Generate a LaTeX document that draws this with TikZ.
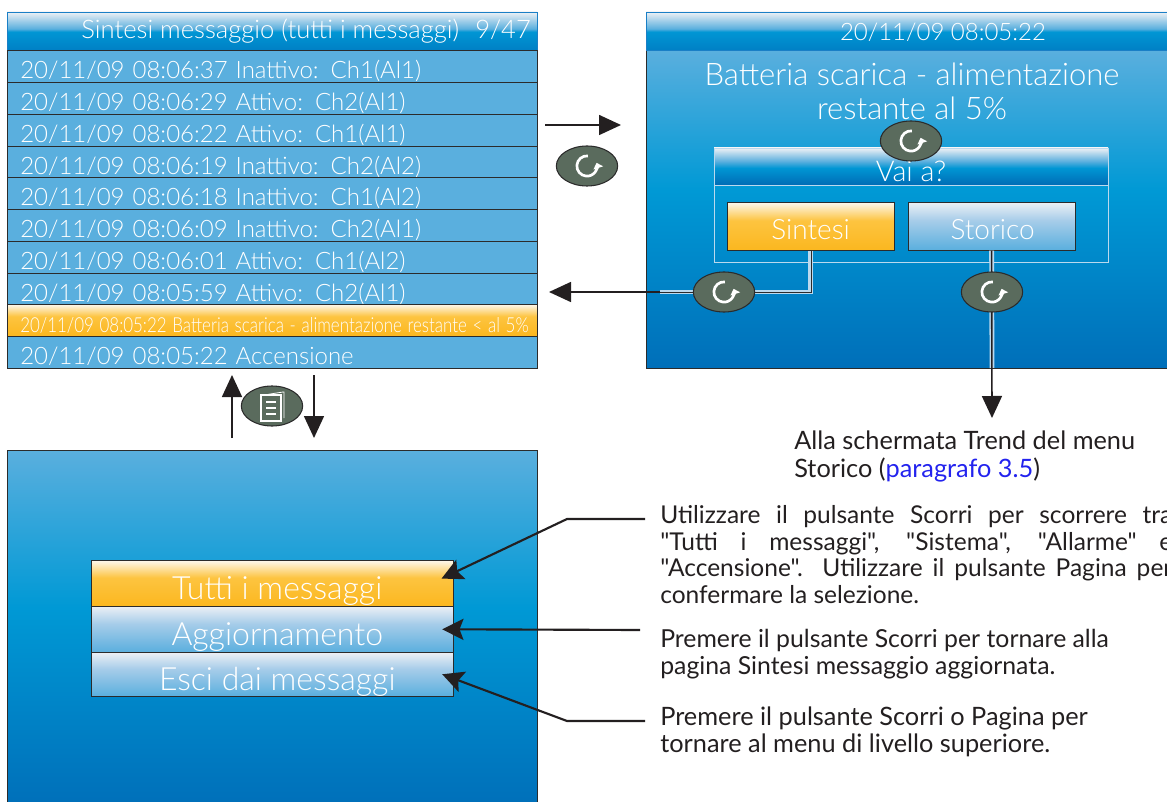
\documentclass[tikz,border=0pt]{standalone}
\usepackage{fontspec}
\setmainfont{Lato}[UprightFont=* Light]
\newfontfamily\notefont{Lato}
\usetikzlibrary{arrows.meta,shapes.geometric}

\definecolor{rowblue}{HTML}{5AAFDE}
\definecolor{keygreen}{HTML}{5A6B5D}
\definecolor{edgedark}{HTML}{2B2B2B}
\definecolor{frameblue}{HTML}{1A7FC6}
\definecolor{hdtop}{HTML}{EEF1F5}
\definecolor{hdmid}{HTML}{0096D4}
\definecolor{hdlow}{HTML}{0080C5}
\definecolor{hddeep}{HTML}{006CB5}
\definecolor{panelmid}{HTML}{0099D5}
\definecolor{panellow}{HTML}{006FB9}
\definecolor{orangetop}{HTML}{FDF8EE}
\definecolor{orangemid}{HTML}{FDC440}
\definecolor{orangelow}{HTML}{FBB71F}
\definecolor{btntop}{HTML}{ECF0F5}
\definecolor{btnmid}{HTML}{A6CCE9}
\definecolor{wirepale}{HTML}{BBD9EE}
\definecolor{linkblue}{HTML}{2323EE}
\definecolor{inktext}{HTML}{231F20}

\pgfdeclareverticalshading{panelshade}{100bp}{color(0bp)=(panellow); color(25bp)=(panellow); color(53bp)=(panelmid); color(75bp)=(rowblue); color(100bp)=(rowblue)}
\pgfdeclareverticalshading{headshade}{100bp}{color(0bp)=(hdlow); color(25bp)=(hdlow); color(49bp)=(hdmid); color(53bp)=(rowblue); color(75bp)=(hdtop); color(100bp)=(hdtop)}
\pgfdeclareverticalshading{vaishade}{100bp}{color(0bp)=(hddeep); color(25bp)=(hddeep); color(48bp)=(hdmid); color(57bp)=(rowblue); color(75bp)=(hdtop); color(100bp)=(hdtop)}
\pgfdeclareverticalshading{orangeshade}{100bp}{color(0bp)=(orangelow); color(25bp)=(orangelow); color(56bp)=(orangemid); color(75bp)=(orangetop); color(100bp)=(orangetop)}
\pgfdeclareverticalshading{btnshade}{100bp}{color(0bp)=(rowblue); color(25bp)=(rowblue); color(56bp)=(btnmid); color(75bp)=(btntop); color(100bp)=(btntop)}

\tikzset{
  rowbox/.style={draw=edgedark, fill=rowblue, text=white, inner ysep=0pt, inner xsep=9.75pt,
    text width=378pt, align=left, text height=21.5pt, text depth=2.5pt, font=\fontsize{18}{22}\selectfont},
  screenbtn/.style={draw=edgedark, text=white, inner sep=0pt, font=\fontsize{21}{25}\selectfont, align=center},
  menubtn/.style={screenbtn, minimum width=271.5pt, font=\fontsize{24}{28}\selectfont},
  keyoval/.style={ellipse, draw=edgedark, fill=keygreen, line width=0.8pt, inner sep=0pt},
  keyarc/.style={draw=white, line width=2pt, -{Triangle[length=4pt,width=7.5pt]}},
  whitetext/.style={text=white, inner sep=0pt},
  bigtext/.style={text=white, inner sep=0pt, align=center, font=\fontsize{23.3}{25.5}\selectfont},
  notetext/.style={text=inktext, inner sep=0pt, anchor=north west, align=left, font=\notefont\fontsize{18.4}{20}\selectfont},
  wirepalestyle/.style={draw=wirepale, line width=3.6pt},
  arrowline/.style={draw=inktext, line width=1.2pt, -{Triangle[length=16.5pt,width=15pt]}},
  calloutline/.style={draw=inktext, line width=1.6pt, -{Stealth[length=16pt,width=16pt,inset=3pt]}}
}

\newcommand{\scrollkey}[3]{
  \node[keyoval, minimum width=#3, minimum height=30pt] (#1) at (#2) {};
  \draw[keyarc] ([shift={(85:7.6pt)}]#1.center) arc[start angle=85, end angle=378, radius=7.6pt];
}

\begin{document}
\begin{tikzpicture}[x=0.75pt, y=-0.75pt]
  \useasboundingbox (0, 0) rectangle (1167, 802);

  \draw[draw=frameblue, shading=headshade] (7, 12) rectangle (537, 50);
  \node[whitetext, anchor=base east, font=\fontsize{19.2}{23}\selectfont] (listtitle) at (531, 39) {Sintesi messaggio (tutti i messaggi)\hspace{12pt}9/47};

  \node[rowbox, anchor=north west] (row1) at (7, 50) {20/11/09 08:06:37 Inattivo: Ch1(Al1)};
  \node[rowbox, anchor=north west] (row2) at (7, 82) {20/11/09 08:06:29 Attivo: Ch2(Al1)};
  \node[rowbox, anchor=north west] (row3) at (7, 114) {20/11/09 08:06:22 Attivo: Ch1(Al1)};
  \node[rowbox, anchor=north west] (row4) at (7, 146) {20/11/09 08:06:19 Inattivo: Ch2(Al2)};
  \node[rowbox, anchor=north west] (row5) at (7, 177) {20/11/09 08:06:18 Inattivo: Ch1(Al2)};
  \node[rowbox, anchor=north west] (row6) at (7, 209) {20/11/09 08:06:09 Inattivo: Ch2(Al1)};
  \node[rowbox, anchor=north west] (row7) at (7, 241) {20/11/09 08:06:01 Attivo: Ch1(Al2)};
  \node[rowbox, anchor=north west] (row8) at (7, 273) {20/11/09 08:05:59 Attivo: Ch2(Al1)};
  \node[rowbox, anchor=north west, shading=orangeshade] (row9) at (7, 304) {\scalebox{0.706}[0.86]{20/11/09 08:05:22 Batteria scarica - alimentazione restante < al 5\%}};
  \node[rowbox, anchor=north west] (row10) at (7, 336) {20/11/09 08:05:22 Accensione};

  \draw[draw=edgedark, shading=panelshade] (646, 50) rectangle (1172, 368);
  \draw[draw=frameblue, shading=headshade] (646, 12) rectangle (1172, 50);
  \node[whitetext, anchor=base, font=\fontsize{18}{22}\selectfont] (alarmtime) at (943, 41) {20/11/09 08:05:22};
  \node[bigtext, anchor=north] (alarmtext) at (912, 63) {Batteria scarica - alimentazione\\restante al 5\%};

  \draw[draw=wirepale] (714, 148) rectangle (1108, 262);
  \draw[draw=wirepale, shading=vaishade] (714, 148) rectangle (1108, 185);
  \node[whitetext, anchor=base, font=\fontsize{21.5}{25}\selectfont] (vai) at (911, 182) {Vai a?};
  \node[screenbtn, anchor=north west, shading=orangeshade, minimum width=125pt, text height=28pt, text depth=8pt] (sintesi) at (727, 202) {Sintesi};
  \node[screenbtn, anchor=north west, shading=btnshade, minimum width=125pt, text height=28pt, text depth=8pt] (storico) at (908, 202) {\hspace*{1.5pt}Storico};

  \draw[draw=edgedark, shading=panelshade] (7, 450) rectangle (537, 808);
  \node[menubtn, anchor=north west, shading=orangeshade, text height=29.5pt, text depth=5pt] (tutti) at (91, 560) {\hspace*{7.5pt}Tutti i messaggi};
  \node[menubtn, anchor=north west, shading=btnshade, text height=29.5pt, text depth=5pt] (aggiorna) at (91, 606) {\hspace*{7.5pt}Aggiornamento};
  \node[menubtn, anchor=north west, shading=btnshade, text height=28.7pt, text depth=4.3pt] (esci) at (91, 652) {\hspace*{7.5pt}Esci dai messaggi};

  \coordinate (nextfrom) at (545, 125);
  \coordinate (nextto) at (621, 125);
  \coordinate (leftfrom) at (660, 292);
  \coordinate (leftto) at (549, 292);
  \coordinate (trendto) at (992, 418);
  \coordinate (upfrom) at (232, 438);
  \coordinate (upto) at (232, 375);
  \coordinate (downfrom) at (314, 375);
  \coordinate (downto) at (314, 438);
  \coordinate (tuttielbow) at (567, 519);
  \coordinate (tuttifrom) at (645, 519);
  \coordinate (aggfrom) at (640, 630);
  \coordinate (escielbow) at (567, 721);
  \coordinate (escifrom) at (645, 721);
  \coordinate (storicopale) at (992, 368);

  \draw[wirepalestyle] (sintesi.south) |- (leftfrom);
  \draw[draw=edgedark, line width=0.7pt] ([shift={(1pt,0pt)}]sintesi.south) |- ([yshift=-0.7pt]leftfrom);
  \draw[wirepalestyle] (storico.south) -- (storicopale);
  \draw[arrowline] (leftfrom) -- (leftto);
  \draw[arrowline] (storico.south) -- (trendto);
  \draw[arrowline] (nextfrom) -- (nextto);
  \draw[arrowline] (upfrom) -- (upto);
  \draw[arrowline] (downfrom) -- (downto);

  \scrollkey{keynext}{587, 166}{46pt}
  \scrollkey{keytop}{911, 141}{46pt}
  \scrollkey{keysintesi}{724, 292}{46pt}
  \scrollkey{keystorico}{992, 292}{46pt}

  \node[keyoval, minimum width=46pt, minimum height=30pt] (keypage) at (272, 406) {};
  \draw[draw=white, line width=0.6pt] (264, 395) -- (283, 392) -- (284, 392) -- (284, 418);
  \draw[draw=white, line width=0.8pt, fill=keygreen] (261, 395) rectangle (281, 421);
  \draw[draw=white, line width=1.2pt] (266, 402) -- (276, 402) (266, 408) -- (276, 408) (266, 414) -- (276, 414);

  \draw[calloutline] (tuttifrom) -- (tuttielbow) -- ([shift={(-9pt,3.5pt)}]tutti.east);
  \draw[calloutline] (aggfrom) -- ([xshift=-8.5pt]aggiorna.east);
  \draw[calloutline] (escifrom) -- (escielbow) -- ([xshift=-8.5pt]esci.east);

  \node[notetext, font=\notefont\fontsize{19}{21}\selectfont] (trendnote) at (794, 431) {Alla schermata Trend del menu\\Storico ({\color{linkblue}paragrafo 3.5})};
  \node[notetext, text width=384pt, align=justify] (note1) at (660, 505) {Utilizzare il pulsante Scorri per scorrere tra\linebreak "Tutti i messaggi", "Sistema", "Allarme" e\linebreak "Accensione". Utilizzare il pulsante Pagina per\linebreak confermare la selezione.};
  \node[notetext, font=\notefont\fontsize{18.6}{20}\selectfont] (note2) at (660, 629) {Premere il pulsante Scorri per tornare alla\\pagina Sintesi messaggio aggiornata.};
  \node[notetext, font=\notefont\fontsize{19}{20}\selectfont] (note3) at (660, 707) {Premere il pulsante Scorri o Pagina per\\tornare al menu di livello superiore.};
\end{tikzpicture}
\end{document}
